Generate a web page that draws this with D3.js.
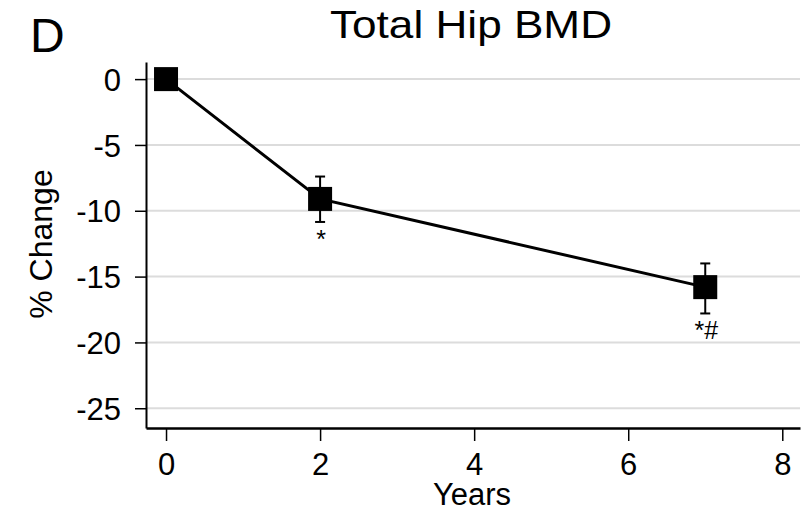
<!DOCTYPE html>
<html>
<head>
<meta charset="utf-8">
<script src="https://cdn.jsdelivr.net/npm/d3@7"></script>
<style>
  body { margin: 0; background: #fff; }
  text { font-family: "Liberation Sans", Arial, sans-serif; fill: #000; }
</style>
</head>
<body>
<div id="chart"></div>
<script>
// data
var years = [0, 2, 7];
var pctChange = [0, -9.1, -15.8];
var errLow = [0, -10.85, -17.8];
var errHigh = [0, -7.4, -14.0];
var marks = ["", "*", "*#"];
var xTicks = [0, 2, 4, 6, 8];
var yTicks = [0, -5, -10, -15, -20, -25];

var width = 812, height = 512;
var svg = d3.select('#chart').append('svg')
    .attr('width', width).attr('height', height);

var x = d3.scaleLinear().domain([-0.26, 8.23]).range([146, 800]);
var y = d3.scaleLinear().domain([-26.5, 1.3]).range([428, 62]);

// gridlines
svg.append('g').selectAll('line').data(yTicks).enter().append('line')
    .attr('x1', 147).attr('x2', 800)
    .attr('y1', function (d) { return y(d); })
    .attr('y2', function (d) { return y(d); })
    .attr('stroke', '#dcdcdc').attr('stroke-width', 2);

// y axis
var yAxis = svg.append('g').attr('transform', 'translate(146,0)')
    .call(d3.axisLeft(y).tickValues(yTicks).tickSize(11).tickSizeOuter(0).tickPadding(14)
        .tickFormat(function (d) { return String(d); }));
yAxis.select('.domain').attr('stroke-width', 2);
yAxis.selectAll('.tick line').attr('stroke-width', 1.5);
yAxis.selectAll('text').attr('font-size', 31).attr('dy', '0.36em')
    .attr('font-family', '"Liberation Sans", Arial, sans-serif');

// x axis
var xAxis = svg.append('g').attr('transform', 'translate(0,428)')
    .call(d3.axisBottom(x).tickValues(xTicks).tickSize(13).tickSizeOuter(0).tickPadding(12));
xAxis.select('.domain').attr('stroke-width', 2.5);
xAxis.selectAll('.tick line').attr('stroke-width', 1.5);
xAxis.selectAll('text').attr('font-size', 31).attr('dy', '0.72em')
    .attr('font-family', '"Liberation Sans", Arial, sans-serif');

// axis titles
svg.append('text').attr('x', 472).attr('y', 505)
    .attr('text-anchor', 'middle').attr('font-size', 31).text('Years');
svg.append('text').attr('transform', 'translate(52,244) rotate(-90)')
    .attr('text-anchor', 'middle').attr('font-size', 32).text('% Change');

// titles
svg.append('text').attr('x', 471).attr('y', 38)
    .attr('text-anchor', 'middle').attr('font-size', 39)
    .attr('textLength', 282).attr('lengthAdjust', 'spacingAndGlyphs')
    .text('Total Hip BMD');
svg.append('text').attr('x', 30).attr('y', 52)
    .attr('font-size', 48).text('D');

var pts = years.map(function (d, i) {
    return {yr: d, v: pctChange[i], lo: errLow[i], hi: errHigh[i], m: marks[i]};
});

// error bars
var eb = svg.append('g').selectAll('g').data(pts.filter(function (d) { return d.hi !== d.lo; }))
    .enter().append('g').attr('stroke', '#000').attr('stroke-width', 2);
eb.append('line')
    .attr('x1', function (d) { return x(d.yr); }).attr('x2', function (d) { return x(d.yr); })
    .attr('y1', function (d) { return y(d.lo); }).attr('y2', function (d) { return y(d.hi); });
eb.append('line')
    .attr('x1', function (d) { return x(d.yr) - 5; }).attr('x2', function (d) { return x(d.yr) + 5; })
    .attr('y1', function (d) { return y(d.lo); }).attr('y2', function (d) { return y(d.lo); });
eb.append('line')
    .attr('x1', function (d) { return x(d.yr) - 5; }).attr('x2', function (d) { return x(d.yr) + 5; })
    .attr('y1', function (d) { return y(d.hi); }).attr('y2', function (d) { return y(d.hi); });

// connecting line
var line = d3.line().x(function (d) { return x(d.yr); }).y(function (d) { return y(d.v); });
svg.append('path').datum(pts).attr('d', line)
    .attr('fill', 'none').attr('stroke', '#000').attr('stroke-width', 3);

// square markers
var sz = 24;
svg.append('g').selectAll('rect').data(pts).enter().append('rect')
    .attr('x', function (d) { return x(d.yr) - sz / 2; })
    .attr('y', function (d) { return y(d.v) - sz / 2; })
    .attr('width', sz).attr('height', sz).attr('fill', '#000');

// significance marks
svg.append('g').selectAll('text').data(pts).enter().append('text')
    .attr('x', function (d) { return x(d.yr) + 1; })
    .attr('y', function (d) { return y(d.lo) + 26; })
    .attr('text-anchor', 'middle').attr('font-size', 25)
    .text(function (d) { return d.m; });
</script>
</body>
</html>
